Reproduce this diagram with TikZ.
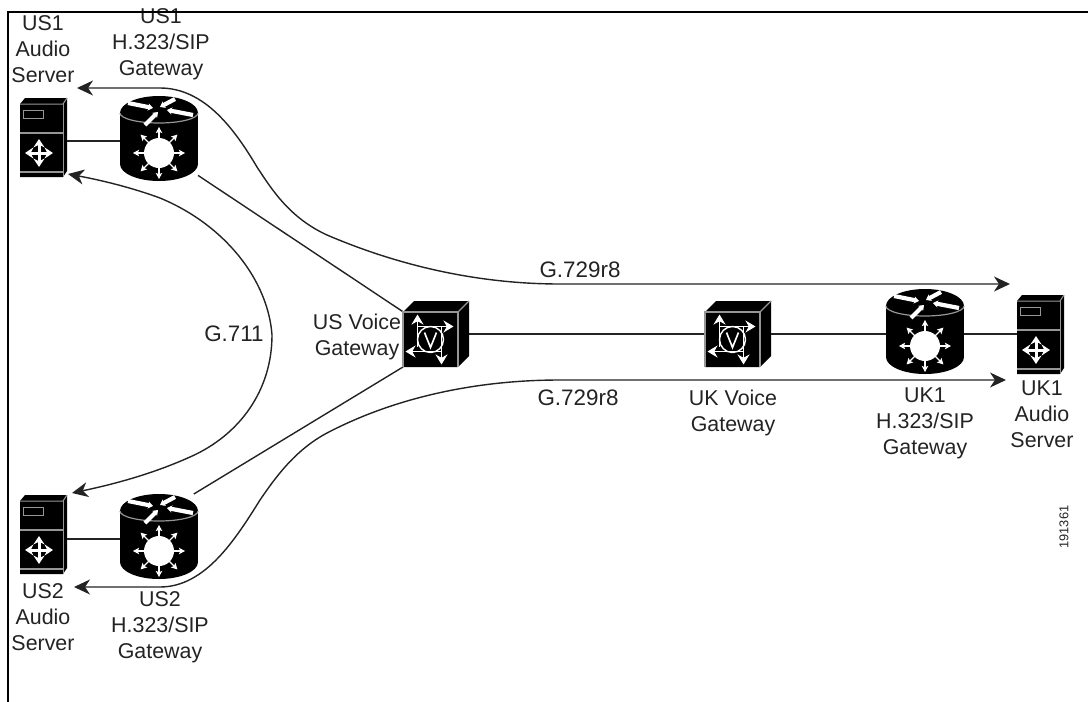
\documentclass[tikz,border=0pt]{standalone}
\usepackage{fontspec}
\setmainfont{Liberation Sans}
\usetikzlibrary{arrows.meta, positioning}
\definecolor{IconGray}{RGB}{150,150,150}
\definecolor{InkGray}{RGB}{35,35,35}
\tikzset{
	routerbox/.style={rectangle, minimum width=39pt, minimum height=43pt, inner sep=0pt, outer sep=0pt},
	serverbox/.style={rectangle, minimum width=23.5pt, minimum height=39pt, inner sep=0pt, outer sep=0pt},
	voicebox/.style={rectangle, minimum width=33pt, minimum height=33pt, inner sep=0pt, outer sep=0pt},
	wire/.style={draw=InkGray, line width=0.7pt},
	flow/.style={draw=InkGray, line width=0.7pt,
		{Stealth[length=8pt, width=7.5pt, inset=2.5pt]}-{Stealth[length=8pt, width=7.5pt, inset=2.5pt]}},
	txt/.style={text=InkGray, align=center, font=\fontsize{10.7}{13}\selectfont, inner sep=0pt},
	whitehead/.style={white, line width=0.6pt, -{Stealth[length=3pt, width=3.2pt, inset=0.6pt]}},
	routericon/.pic={
		\fill[black] (0,-26) ellipse [x radius=39, y radius=17];
		\fill[black] (-39,-26) rectangle (39,25);
		\fill[black] (0,25) ellipse [x radius=39, y radius=17];
		\draw[IconGray, line width=0.6pt] (-39,-26) arc[x radius=39, y radius=10, start angle=180, end angle=0];
		% flechas de la tapa
		\foreach \x/\y/\xx/\yy in {-31/-36/-6/-31, 16/-40/1/-32, 34/-24/8/-29, -14/-14/-1/-27}{
			\draw[white, line width=2.1pt, -{Stealth[length=2.5pt, width=3.6pt]}] (\x,\y) -- (\xx,\yy);
		}
		% estrella
		\fill[white] (0,14) circle (15);
		\foreach \a in {0,45,...,315}{
			\draw[whitehead] (0,14) -- ++(\a:26);
		}
	},
	servericon/.pic={
		\fill[black] (-23,-33) -- (-18,-39) -- (24,-39) -- (24,34) -- (20,40) -- (-23,40) -- cycle;
		\draw[IconGray, line width=0.5pt] (20,-33) -- (20,40);
		\draw[IconGray, line width=0.5pt] (-23,-33) -- (20,-33) -- (24,-39);
		\draw[IconGray, line width=0.6pt] (-23,-4) -- (20,-4);
		\draw[IconGray, line width=0.6pt] (-23,35) -- (20,35);
		\draw[IconGray, line width=0.5pt] (-20,-27) rectangle (0,-19);
		\foreach \a in {0,90,180,270}{
			\draw[white, line width=1.5pt, -{Stealth[length=4.2pt, width=5.5pt]}] (-4,16) -- ++(\a:14);
		}
	},
	voiceicon/.pic={
		\fill[black] (-33,-22) -- (-22,-33) -- (33,-33) -- (33,22) -- (22,33) -- (-33,33) -- cycle;
		\draw[IconGray, line width=0.6pt] (-33,33) -- (-33,-22) -- (22,-22) -- (22,33);
		\draw[IconGray, line width=0.6pt] (22,-22) -- (33,-33);
		\begin{scope}[shift={(-5.5,5.5)}]
			\draw[white, line width=0.7pt] (0,0) circle (13);
			\draw[white, line width=0.8pt] (-6,-7) -- (0,8) -- (6,-7);
			\draw[white, line width=0.9pt, -{Stealth[length=5pt, width=6pt]}] (-13,7) -- (-13,-25);
			\draw[white, line width=0.9pt, -{Stealth[length=5pt, width=6pt]}] (-13,-13) -- (23,-13);
			\draw[white, line width=0.9pt, -{Stealth[length=5pt, width=6pt]}] (11,-13) -- (11,25);
			\draw[white, line width=0.9pt, -{Stealth[length=5pt, width=6pt]}] (11,12) -- (-25,12);
		\end{scope}
	},
}

\begin{document}
\begin{tikzpicture}[x=0.5pt, y=-0.5pt]
	\useasboundingbox (0,0) rectangle (1088,702);

	% equipos
	\node[routerbox] (usgwa) at (159,139) {};
	\node[routerbox] (usgwb) at (159,537) {};
	\node[routerbox] (ukgw) at (925,332) {};
	\node[serverbox] (ussrva) at (43,137) {};
	\node[serverbox] (ussrvb) at (43,534) {};
	\node[serverbox] (uksrv) at (1040,334) {};
	\node[voicebox] (usvoice) at (436,334) {};
	\node[voicebox] (ukvoice) at (738,334) {};

	% enlaces
	\draw[wire] (ussrva.east |- 0,141) -- (usgwa.west |- 0,141);
	\draw[wire] (ussrvb.east |- 0,539) -- (usgwb.west |- 0,539);
	\draw[wire] (usgwa.-43) -- (usvoice.146);
	\draw[wire] (usgwb.51) -- (usvoice.south west);
	\draw[wire] (usvoice) -- (ukvoice);
	\draw[wire] (ukvoice) -- (ukgw.west |- ukvoice);
	\draw[wire] (ukgw.east |- uksrv) -- (uksrv);

	% extremos libres
	\coordinate (topL) at (77,88);
	\coordinate (topR) at (1010,284);
	\coordinate (lowL) at (74,587);
	\coordinate (lowR) at (1006,380);
	\coordinate (midT) at (68,174);
	\coordinate (midB) at (72,493);

	% flujos de audio
	\draw[flow] (topL) -- (160,88) .. controls (205,88) and (235,130) .. (257,167)
		.. controls (272,190) and (290,218) .. (327,235)
		.. controls (390,262) and (470,284) .. (560,284) -- (topR);
	\draw[flow] (lowL) -- (160,587) .. controls (205,587) and (235,540) .. (260,500)
		.. controls (275,478) and (295,450) .. (327,433)
		.. controls (390,400) and (470,380) .. (560,380) -- (lowR);
	\draw[flow] (midT) .. controls (100,180) and (130,187) .. (160,198)
		.. controls (225,225) and (268,280) .. (272,335)
		.. controls (272,390) and (240,435) .. (190,457)
		.. controls (150,475) and (110,485) .. (midB);

	% iconos
	\foreach \n in {usgwa, usgwb, ukgw}{ \pic at (\n) {routericon}; }
	\foreach \n in {ussrva, ussrvb, uksrv}{ \pic at (\n) {servericon}; }
	\foreach \n in {usvoice, ukvoice}{ \pic at (\n) {voiceicon}; }

	% textos
	\node[txt] (lbusa) at (43,49) {US1\\Audio\\Server};
	\node[txt] (lbgwa) at (161,44) {US1\\H.323/SIP\\Gateway};
	\node[txt] (lbusb) at (43,617) {US2\\Audio\\Server};
	\node[txt] (lbgwb) at (160,627) {US2\\H.323/SIP\\Gateway};
	\node[txt] (lbusv) at (357,337) {US Voice\\Gateway};
	\node[txt] (lbukv) at (733,413) {UK Voice\\Gateway};
	\node[txt] (lbukg) at (925,423) {UK1\\H.323/SIP\\Gateway};
	\node[txt] (lbuks) at (1042,414) {UK1\\Audio\\Server};
	\node[txt, font=\fontsize{11.2}{13}\selectfont] (lbmid) at (234,334) {G.711};
	\node[txt, font=\fontsize{11.2}{13}\selectfont] (lbtop) at (580,270) {G.729r8};
	\node[txt, font=\fontsize{11.2}{13}\selectfont] (lblow) at (578,398) {G.729r8};
	\node[txt, font=\fontsize{6.4}{7}\selectfont, rotate=90] (lbnum) at (1064,527) {191361};

	% marco
	\draw[black, line width=1.2pt] (8,702) -- (8,12) -- (1088,12);
\end{tikzpicture}
\end{document}
